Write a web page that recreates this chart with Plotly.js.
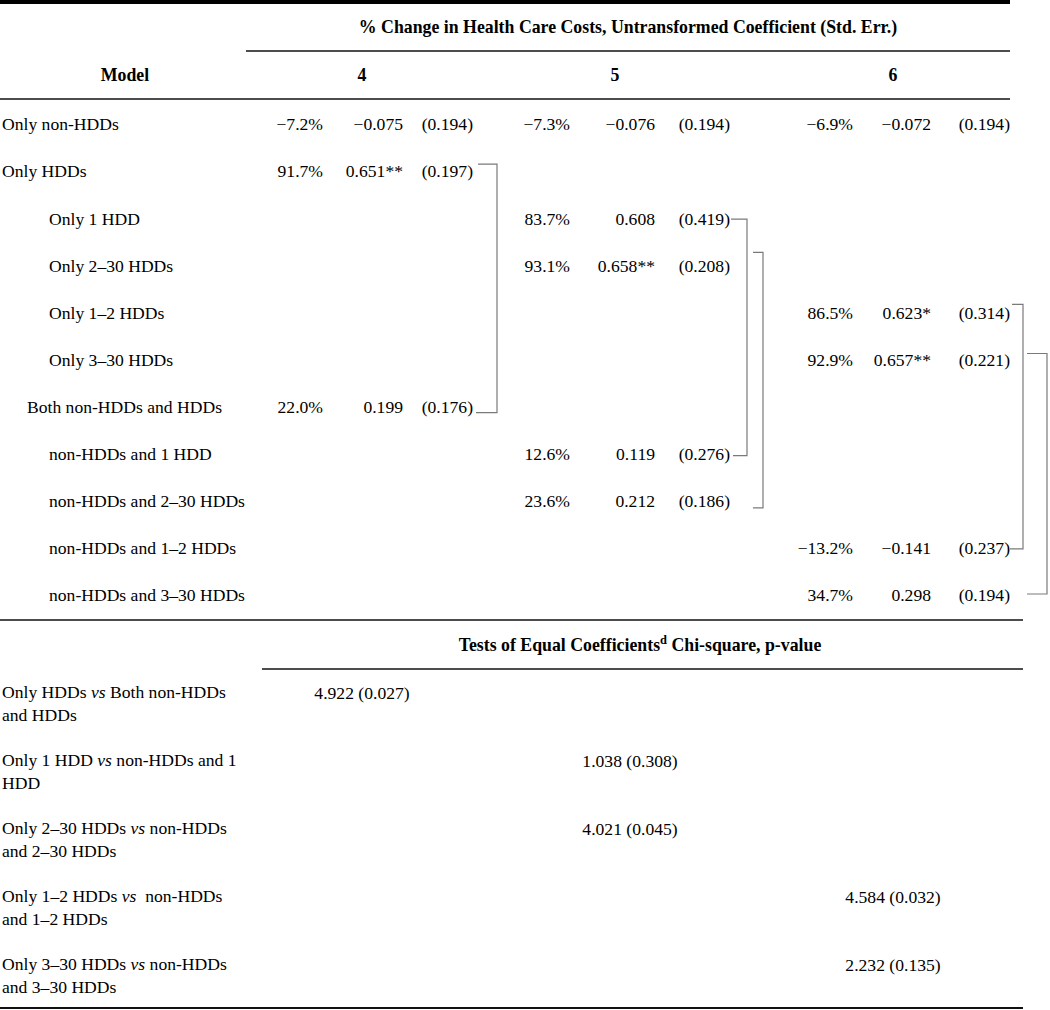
<!DOCTYPE html>
<html><head><meta charset="utf-8">
<script src="https://cdn.plot.ly/plotly-3.0.1.min.js"></script>
<style>html,body{margin:0;padding:0;background:#fff;} #chart{width:1050px;height:1010px;}</style>
</head><body><div id="chart"></div>
<script>
// ---------------- data ----------------
const headerTitle = "% Change in Health Care Costs, Untransformed Coefficient (Std. Err.)";
const modelHeader = "Model";
const models = ["4", "5", "6"];
const rowLabels = ["Only non-HDDs", "Only HDDs", "Only 1 HDD", "Only 2–30 HDDs", "Only 1–2 HDDs",
  "Only 3–30 HDDs", "Both non-HDDs and HDDs", "non-HDDs and 1 HDD", "non-HDDs and 2–30 HDDs",
  "non-HDDs and 1–2 HDDs", "non-HDDs and 3–30 HDDs"];
const rowLevels = [0, 0, 2, 2, 2, 2, 1, 2, 2, 2, 2];
const pct4  = ["−7.2%", "91.7%", "", "", "", "", "22.0%", "", "", "", ""];
const coef4 = ["−0.075", "0.651**", "", "", "", "", "0.199", "", "", "", ""];
const se4   = ["(0.194)", "(0.197)", "", "", "", "", "(0.176)", "", "", "", ""];
const pct5  = ["−7.3%", "", "83.7%", "93.1%", "", "", "", "12.6%", "23.6%", "", ""];
const coef5 = ["−0.076", "", "0.608", "0.658**", "", "", "", "0.119", "0.212", "", ""];
const se5   = ["(0.194)", "", "(0.419)", "(0.208)", "", "", "", "(0.276)", "(0.186)", "", ""];
const pct6  = ["−6.9%", "", "", "", "86.5%", "92.9%", "", "", "", "−13.2%", "34.7%"];
const coef6 = ["−0.072", "", "", "", "0.623*", "0.657**", "", "", "", "−0.141", "0.298"];
const se6   = ["(0.194)", "", "", "", "(0.314)", "(0.221)", "", "", "", "(0.237)", "(0.194)"];
// compared row pairs (row index from, row index to)
const bracketFrom = [1, 2, 3, 4, 5];
const bracketTo   = [6, 7, 8, 9, 10];
const testsTitle = "Tests of Equal Coefficients<sup>d</sup> Chi-square, p-value";
const testLabels = [
  "Only HDDs <i>vs</i> Both non-HDDs<br>and HDDs",
  "Only 1 HDD <i>vs</i> non-HDDs and 1<br>HDD",
  "Only 2–30 HDDs <i>vs</i> non-HDDs<br>and 2–30 HDDs",
  "Only 1–2 HDDs <i>vs</i>\u00a0 non-HDDs<br>and 1–2 HDDs",
  "Only 3–30 HDDs <i>vs</i> non-HDDs<br>and 3–30 HDDs"];
const testModel = [0, 1, 1, 2, 2];
const testValues = ["4.922 (0.027)", "1.038 (0.308)", "4.021 (0.045)", "4.584 (0.032)", "2.232 (0.135)"];

// ---------------- layout constants ----------------
const W = 1050, H = 1010;
const FONT = "Liberation Serif, Times New Roman, serif";
const FS = 17.6, FSB = 17.8;
const ROW0 = 126, ROWSTEP = 47.1;
const rowY = i => ROW0 + i * ROWSTEP;
const TEST0 = 695, TESTSTEP = 68;
const testY = i => TEST0 + i * TESTSTEP;
const levelX = [2, 27, 49];
const colRight = [[323, 403, 473], [570, 655, 730], [853, 931, 1010]];
const modelCenterX = [362, 615, 893];
const testCenterX = [362, 630, 893];
const bracketGeom = [
  {x: 497, x0: 478, x0b: 476, top: -9, bot: 4},
  {x: 747, x0: 731, x0b: 733, top: -1, bot: 0},
  {x: 763, x0: 753, x0b: 753, top: -15, bot: 5},
  {x: 1023, x0: 1012, x0b: 1010, top: -10, bot: -1},
  {x: 1047, x0: 1027, x0b: 1027, top: -8, bot: -3}
];

const traces = [];
function textTrace(xs, ys, texts, pos, size) {
  traces.push({
    type: 'scatter', mode: 'text', x: xs, y: ys, text: texts, textposition: pos,
    textfont: {family: FONT, size: size || FS, color: '#000'},
    hoverinfo: 'skip', showlegend: false, cliponaxis: false
  });
}

// headers
textTrace([(246 + 1010) / 2], [29], ["<b>" + headerTitle + "</b>"], 'middle center', FSB);
textTrace([125].concat(modelCenterX), [77, 77, 77, 77],
  ["<b>" + modelHeader + "</b>"].concat(models.map(m => "<b>" + m + "</b>")), 'middle center', FSB);

// row labels
textTrace(rowLevels.map(l => levelX[l]), rowLabels.map((_, i) => rowY(i)), rowLabels, 'middle right');

// data cells
const modelData = [[pct4, coef4, se4], [pct5, coef5, se5], [pct6, coef6, se6]];
modelData.forEach((cols, m) => {
  cols.forEach((col, c) => {
    const xs = [], ys = [], ts = [];
    col.forEach((v, i) => { if (v !== "") { xs.push(colRight[m][c]); ys.push(rowY(i)); ts.push(v); } });
    textTrace(xs, ys, ts, 'middle left');
  });
});

// brackets
bracketFrom.forEach((f, k) => {
  const g = bracketGeom[k];
  const yt = rowY(f) + g.top, yb = rowY(bracketTo[k]) + g.bot;
  traces.push({
    type: 'scatter', mode: 'lines', x: [g.x0, g.x, g.x, g.x0b], y: [yt, yt, yb, yb],
    line: {color: '#7a7a7a', width: 1.2}, hoverinfo: 'skip', showlegend: false, cliponaxis: false
  });
});

// tests section
textTrace([640], [647], ["<b>" + testsTitle + "</b>"], 'middle center', FSB);
textTrace(testLabels.map(() => 2), testLabels.map((_, i) => testY(i) + 10), testLabels, 'middle right');
textTrace(testModel.map(m => testCenterX[m]), testValues.map((_, i) => testY(i)), testValues, 'middle center');

// rules
const rule = (x0, x1, y, w, c) => ({type: 'line', xref: 'x', yref: 'y', x0: x0, x1: x1, y0: y, y1: y,
  line: {color: c || '#111', width: w}});
const shapes = [
  rule(0, 1010, 2, 4, '#000'),
  rule(246, 1010, 51, 1.5),
  rule(0, 1010, 99, 1.5),
  rule(0, 1023, 620, 1.5),
  rule(262, 1023, 669, 1.5),
  rule(0, 1023, 1008, 2)
];

const layout = {
  width: W, height: H, margin: {l: 0, r: 0, t: 0, b: 0, pad: 0},
  paper_bgcolor: '#fff', plot_bgcolor: '#fff', showlegend: false,
  xaxis: {range: [0, W], visible: false, fixedrange: true},
  yaxis: {range: [H, 0], visible: false, fixedrange: true},
  shapes: shapes
};
Plotly.newPlot('chart', traces, layout, {staticPlot: true, displayModeBar: false});
</script>
</body></html>
